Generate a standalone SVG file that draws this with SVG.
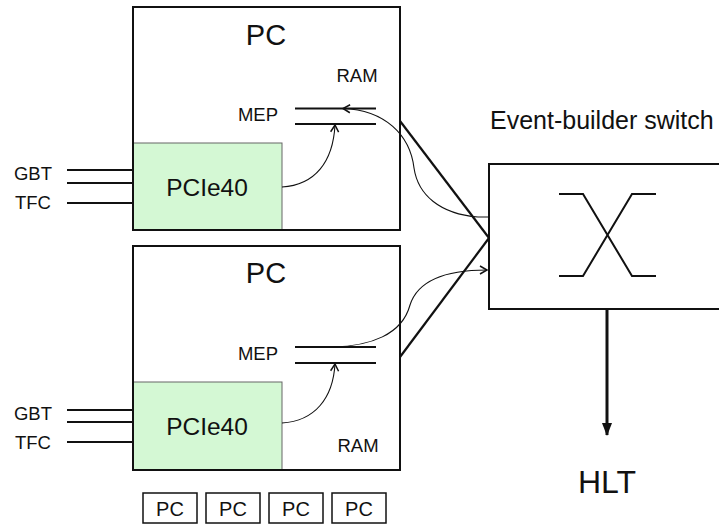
<svg xmlns="http://www.w3.org/2000/svg" width="719" height="525" viewBox="0 0 719 525">
<style>
text{font-family:"Liberation Sans",Arial,sans-serif;fill:#111}
.box{fill:none;stroke:#111;stroke-width:2}
.card{fill:#d4f8d4;stroke:#666;stroke-width:1}
.bus{stroke:#111;stroke-width:2.2;fill:none}
.thin{stroke:#111;stroke-width:1.1;fill:none}
.thick{stroke:#111;stroke-width:2.2;fill:none}
.big{font-size:29px}
.mid{font-size:24.5px}
.sm{font-size:18.5px}
.pcs{font-size:20px}
</style>
<defs>
<marker id="open" markerWidth="10" markerHeight="10" refX="8" refY="5" orient="auto" markerUnits="userSpaceOnUse">
<path d="M1,1 L8,5 L1,9" fill="none" stroke="#111" stroke-width="1.5"/>
</marker>
<marker id="solid" markerWidth="12" markerHeight="14" refX="6" refY="12" orient="0" markerUnits="userSpaceOnUse">
<path d="M1,0 L11,0 L6,13 Z" fill="#111"/>
</marker>
</defs>
<g id="pc-top">
<rect x="133" y="7" width="267" height="223" fill="#fff"/>
<rect class="card" x="133" y="143" width="149" height="87"/>
<rect class="box" x="133" y="7" width="267" height="223"/>
<text class="big" x="266" y="45" text-anchor="middle">PC</text>
<text class="sm" x="357" y="82" text-anchor="middle">RAM</text>
<text class="sm" x="258" y="121" text-anchor="middle">MEP</text>
<text class="mid" x="207" y="196" text-anchor="middle">PCIe40</text>
<line class="bus" x1="295" y1="108.5" x2="376" y2="108.5"/>
<line class="bus" x1="295" y1="124" x2="376" y2="124"/>
<line class="bus" x1="67" y1="170" x2="133" y2="170"/>
<line class="bus" x1="67" y1="183" x2="133" y2="183"/>
<line class="bus" x1="67" y1="203" x2="133" y2="203"/>
<text class="sm" x="33" y="180" text-anchor="middle">GBT</text>
<text class="sm" x="33" y="209" text-anchor="middle">TFC</text>
</g>
<g id="pc-bottom">
<rect x="133" y="246" width="267" height="224" fill="#fff"/>
<rect class="card" x="133" y="382" width="149" height="88"/>
<rect class="box" x="133" y="246" width="267" height="224"/>
<text class="big" x="266" y="283" text-anchor="middle">PC</text>
<text class="sm" x="358" y="452" text-anchor="middle">RAM</text>
<text class="sm" x="258" y="360" text-anchor="middle">MEP</text>
<text class="mid" x="207" y="435" text-anchor="middle">PCIe40</text>
<line class="bus" x1="295" y1="347" x2="376" y2="347"/>
<line class="bus" x1="295" y1="363" x2="376" y2="363"/>
<line class="bus" x1="67" y1="410" x2="133" y2="410"/>
<line class="bus" x1="67" y1="422" x2="133" y2="422"/>
<line class="bus" x1="67" y1="442" x2="133" y2="442"/>
<text class="sm" x="33" y="420" text-anchor="middle">GBT</text>
<text class="sm" x="33" y="449" text-anchor="middle">TFC</text>
</g>
<g id="switch">
<rect class="box" x="489" y="164" width="245" height="145" fill="#fff"/>
<path class="thick" d="M559 194 H583 L632 276 H656 M656 194 H632 L583 276 H559" style="stroke-width:2"/>
<text x="490" y="129" style="font-size:25px">Event-builder switch</text>
</g>
<g id="hlt">
<text x="607" y="493" text-anchor="middle" style="font-size:32px">HLT</text>
</g>
<g id="more-pcs">
<rect class="box" x="143" y="493" width="54" height="30" style="stroke-width:1.5"/>
<rect class="box" x="206" y="493" width="54" height="30" style="stroke-width:1.5"/>
<rect class="box" x="269" y="493" width="54" height="30" style="stroke-width:1.5"/>
<rect class="box" x="332" y="493" width="54" height="30" style="stroke-width:1.5"/>
<text class="pcs" x="170" y="516" text-anchor="middle">PC</text>
<text class="pcs" x="233" y="516" text-anchor="middle">PC</text>
<text class="pcs" x="296" y="516" text-anchor="middle">PC</text>
<text class="pcs" x="359" y="516" text-anchor="middle">PC</text>
</g>
<g id="connectors">
<line class="thick" x1="400" y1="121" x2="489" y2="238"/>
<line class="thick" x1="400" y1="357" x2="489" y2="238"/>
<path class="thin" d="M282 187 C315 185 333 162 335 125" marker-end="url(#open)"/>
<path class="thin" d="M282 423 C315 421 333 398 335 364" marker-end="url(#open)"/>
<path class="thin" d="M489 217 L478 217 C440 214 418 195 414 168 C410 135 385 110 343 108.5" marker-end="url(#open)"/>
<path class="thin" d="M333 347 C370 346 402 335 410 305 C418 280 445 270 487 270" marker-end="url(#open)"/>
<line x1="607" y1="309" x2="607" y2="435" stroke="#111" stroke-width="3" marker-end="url(#solid)"/>
</g>
</svg>
